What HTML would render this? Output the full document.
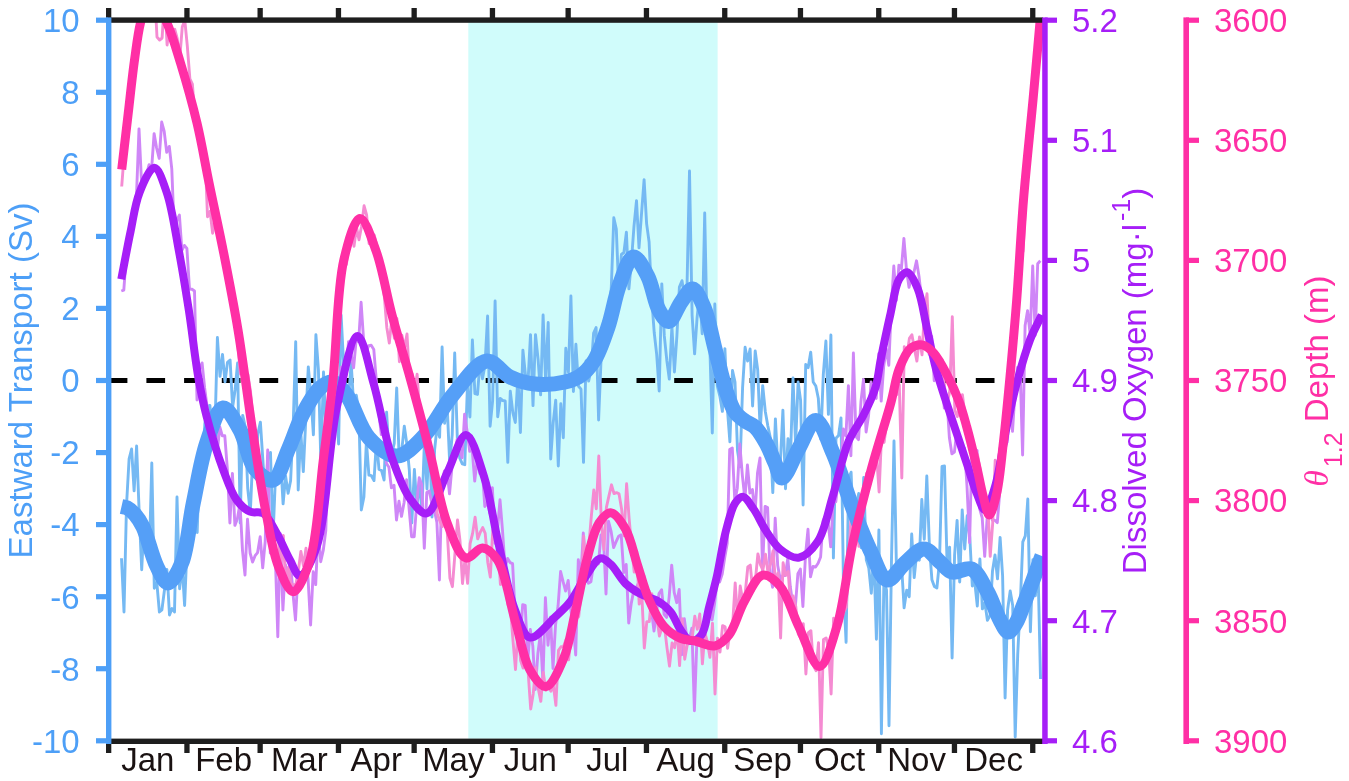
<!DOCTYPE html>
<html><head><meta charset="utf-8"><style>
html,body{margin:0;padding:0;background:#fff;}
body{width:1349px;height:781px;overflow:hidden;}
svg{display:block;font-family:"Liberation Sans", sans-serif;filter:blur(0.45px);}
</style></head><body>
<svg width="1349" height="781" viewBox="0 0 1349 781">
<rect width="1349" height="781" fill="#ffffff"/>
<rect x="468.3" y="22.2" width="249.3" height="716.6" fill="#d0fcfb"/>
<line x1="108.7" y1="380.5" x2="1045.0" y2="380.5" stroke="#000" stroke-width="5" stroke-dasharray="18.7 19"/>
<defs><clipPath id="pc"><rect x="108.7" y="20.2" width="936.3" height="720.6"/></clipPath></defs>
<g clip-path="url(#pc)" fill="none" stroke-linejoin="round">
<path d="M121.5,558.3 L124.0,612.0 L126.5,505.5 L129.1,458.8 L131.6,449.0 L134.1,490.8 L136.6,446.0 L139.2,512.7 L141.7,569.7 L144.2,519.4 L146.7,552.3 L149.3,556.7 L151.8,463.0 L154.3,588.2 L156.8,582.4 L159.4,612.0 L161.9,609.9 L164.4,590.5 L166.9,569.5 L169.5,615.0 L172.0,608.5 L174.5,612.0 L177.0,497.0 L179.6,588.8 L182.1,564.7 L184.6,605.5 L187.1,546.3 L189.7,535.1 L192.2,531.3 L194.7,491.2 L197.2,532.5 L199.8,448.2 L202.3,476.9 L204.8,424.0 L207.3,406.6 L209.9,405.4 L212.4,433.1 L214.9,431.1 L217.4,337.5 L220.0,376.3 L222.5,354.4 L225.0,381.9 L227.5,362.3 L230.1,360.0 L232.6,407.2 L235.1,390.0 L237.6,363.0 L240.2,523.0 L242.7,415.4 L245.2,426.5 L247.7,488.0 L250.3,513.0 L252.8,455.4 L255.3,471.5 L257.8,434.1 L260.4,422.1 L262.9,460.8 L265.4,499.5 L267.9,455.9 L270.5,452.5 L273.0,536.9 L275.5,475.7 L278.0,482.6 L280.5,457.7 L283.1,503.8 L285.6,476.3 L288.1,493.3 L290.6,480.8 L293.2,424.5 L295.7,341.7 L298.2,490.0 L300.7,430.7 L303.3,471.6 L305.8,419.2 L308.3,366.9 L310.8,395.0 L313.4,434.8 L315.9,334.7 L318.4,369.5 L320.9,463.7 L323.5,372.0 L326.0,432.5 L328.5,399.9 L331.0,403.0 L333.6,392.4 L336.1,402.5 L338.6,444.0 L341.1,315.0 L343.7,365.3 L346.2,396.6 L348.7,395.5 L351.2,363.2 L353.8,407.7 L356.3,395.1 L358.8,411.2 L361.3,510.0 L363.9,497.0 L366.4,441.3 L368.9,475.2 L371.4,475.7 L374.0,480.6 L376.5,440.2 L379.0,469.5 L381.5,470.4 L384.1,480.0 L386.6,412.3 L389.1,456.2 L391.6,454.3 L394.2,443.4 L396.7,388.0 L399.2,459.4 L401.7,450.9 L404.3,426.2 L406.8,443.6 L409.3,469.8 L411.8,523.0 L414.4,469.5 L416.9,507.5 L419.4,480.9 L421.9,512.0 L424.5,439.6 L427.0,489.0 L429.5,431.8 L432.0,517.0 L434.6,449.8 L437.1,426.4 L439.6,437.3 L442.1,347.0 L444.6,423.2 L447.2,406.7 L449.7,463.4 L452.2,434.8 L454.7,353.0 L457.3,438.2 L459.8,458.2 L462.3,463.8 L464.8,464.7 L467.4,386.3 L469.9,417.0 L472.4,340.0 L474.9,393.6 L477.5,394.4 L480.0,361.7 L482.5,378.7 L485.0,365.0 L487.6,316.0 L490.1,426.2 L492.6,401.0 L495.1,301.0 L497.7,416.7 L500.2,398.5 L502.7,400.5 L505.2,401.0 L507.8,462.4 L510.3,391.1 L512.8,412.3 L515.3,422.5 L517.9,377.0 L520.4,432.5 L522.9,350.1 L525.4,374.3 L528.0,382.1 L530.5,334.6 L533.0,405.6 L535.5,334.6 L538.1,359.3 L540.6,394.9 L543.1,315.0 L545.6,380.4 L548.2,322.5 L550.7,459.0 L553.2,422.6 L555.7,400.1 L558.3,466.0 L560.8,403.8 L563.3,437.7 L565.8,348.3 L568.4,372.2 L570.9,296.0 L573.4,391.5 L575.9,344.3 L578.5,386.2 L581.0,389.1 L583.5,462.4 L586.0,361.0 L588.6,381.1 L591.1,370.0 L593.6,333.0 L596.1,327.6 L598.6,420.0 L601.2,355.9 L603.7,321.7 L606.2,339.5 L608.7,318.2 L611.3,287.6 L613.8,217.7 L616.3,229.1 L618.8,291.9 L621.4,254.5 L623.9,252.5 L626.4,232.3 L628.9,288.9 L631.5,260.4 L634.0,226.1 L636.5,200.7 L639.0,247.9 L641.6,212.7 L644.1,179.6 L646.6,223.6 L649.1,242.0 L651.7,298.2 L654.2,332.5 L656.7,354.7 L659.2,391.0 L661.8,283.9 L664.3,335.9 L666.8,360.2 L669.3,379.1 L671.9,326.6 L674.4,372.0 L676.9,335.9 L679.4,287.0 L682.0,280.7 L684.5,296.4 L687.0,286.6 L689.5,171.0 L692.1,315.3 L694.6,353.9 L697.1,317.5 L699.6,294.1 L702.2,333.7 L704.7,213.0 L707.2,336.7 L709.7,341.4 L712.3,433.0 L714.8,304.0 L717.3,386.0 L719.8,396.1 L722.4,411.4 L724.9,348.6 L727.4,409.1 L729.9,441.8 L732.5,370.5 L735.0,382.0 L737.5,450.6 L740.0,466.9 L742.6,387.1 L745.1,347.3 L747.6,361.0 L750.1,349.0 L752.6,406.0 L755.2,351.0 L757.7,370.0 L760.2,431.0 L762.7,385.7 L765.3,411.5 L767.8,425.8 L770.3,437.6 L772.8,492.6 L775.4,418.9 L777.9,467.9 L780.4,461.7 L782.9,410.1 L785.5,488.8 L788.0,438.6 L790.5,456.8 L793.0,378.0 L795.6,444.6 L798.1,382.0 L800.6,400.4 L803.1,505.0 L805.7,364.5 L808.2,367.6 L810.7,352.2 L813.2,382.0 L815.8,386.0 L818.3,398.2 L820.8,439.2 L823.3,374.7 L825.9,341.0 L828.4,414.4 L830.9,335.0 L833.4,558.0 L836.0,438.3 L838.5,435.6 L841.0,417.9 L843.5,587.0 L846.1,642.4 L848.6,478.9 L851.1,472.2 L853.6,537.8 L856.2,506.6 L858.7,493.4 L861.2,547.8 L863.7,477.5 L866.3,559.8 L868.8,568.2 L871.3,593.2 L873.8,552.6 L876.4,639.3 L878.9,530.0 L881.4,733.7 L883.9,580.5 L886.5,589.9 L889.0,725.7 L891.5,559.4 L894.0,441.0 L896.6,576.6 L899.1,569.1 L901.6,566.1 L904.1,607.8 L906.7,590.1 L909.2,596.8 L911.7,534.0 L914.2,577.6 L916.7,553.3 L919.3,560.2 L921.8,499.5 L924.3,539.3 L926.8,476.0 L929.4,546.0 L931.9,579.7 L934.4,586.4 L936.9,587.9 L939.5,561.5 L942.0,466.5 L944.5,466.0 L947.0,560.7 L949.6,547.1 L952.1,658.0 L954.6,554.9 L957.1,520.4 L959.7,582.0 L962.2,509.9 L964.7,549.0 L967.2,515.8 L969.8,537.1 L972.3,586.0 L974.8,582.4 L977.3,606.0 L979.9,559.0 L982.4,608.9 L984.9,602.9 L987.4,620.2 L990.0,615.6 L992.5,570.9 L995.0,555.0 L997.5,578.9 L1000.1,537.4 L1002.6,575.9 L1005.1,698.0 L1007.6,610.0 L1010.2,591.0 L1012.7,605.5 L1015.2,737.0 L1017.7,654.8 L1020.3,603.1 L1022.8,541.9 L1025.3,535.9 L1027.8,499.0 L1030.4,631.7 L1032.9,559.7 L1035.4,595.7 L1037.9,562.6 L1040.5,679.0" stroke="#75b9f3" stroke-width="2.9"/>
<path d="M121.3,291.0 L123.8,290.1 L126.3,255.7 L128.9,244.1 L131.4,216.7 L133.9,206.6 L136.4,198.1 L139.0,128.9 L141.5,181.8 L144.0,179.4 L146.5,174.3 L149.1,164.7 L151.6,168.9 L154.1,133.6 L156.6,148.0 L159.2,158.4 L161.7,122.0 L164.2,131.4 L166.7,152.4 L169.3,146.4 L171.8,169.2 L174.3,232.8 L176.8,220.4 L179.4,215.1 L181.9,250.3 L184.4,245.4 L186.9,248.4 L189.5,289.0 L192.0,289.3 L194.5,291.0 L197.0,400.0 L199.6,369.1 L202.1,362.9 L204.6,387.7 L207.1,407.0 L209.7,432.1 L212.2,433.1 L214.7,417.7 L217.2,452.5 L219.8,426.9 L222.3,435.8 L224.8,435.8 L227.3,468.3 L229.9,523.0 L232.4,473.4 L234.9,525.4 L237.4,518.8 L240.0,503.5 L242.5,550.6 L245.0,575.0 L247.5,519.3 L250.1,553.0 L252.6,562.0 L255.1,555.7 L257.6,552.6 L260.2,536.8 L262.7,567.9 L265.2,541.7 L267.7,450.0 L270.3,553.1 L272.8,519.3 L275.3,555.5 L277.8,636.7 L280.3,533.6 L282.9,610.0 L285.4,564.6 L287.9,577.5 L290.4,560.1 L293.0,593.9 L295.5,620.0 L298.0,572.6 L300.5,574.3 L303.1,577.8 L305.6,558.3 L308.1,579.5 L310.6,625.0 L313.2,571.8 L315.7,584.6 L318.2,529.6 L320.7,561.7 L323.3,550.1 L325.8,530.5 L328.3,450.1 L330.8,433.0 L333.4,424.0 L335.9,404.7 L338.4,394.3 L340.9,367.2 L343.5,379.9 L346.0,375.3 L348.5,341.6 L351.0,354.1 L353.6,367.9 L356.1,340.7 L358.6,341.5 L361.1,302.3 L363.7,341.7 L366.2,351.8 L368.7,345.6 L371.2,345.3 L373.8,349.5 L376.3,380.3 L378.8,412.4 L381.3,434.6 L383.9,423.5 L386.4,463.4 L388.9,467.2 L391.4,487.8 L394.0,485.2 L396.5,520.0 L399.0,501.3 L401.5,516.4 L404.1,502.5 L406.6,479.7 L409.1,508.5 L411.6,536.7 L414.2,536.7 L416.7,504.1 L419.2,477.8 L421.7,484.5 L424.3,548.3 L426.8,492.6 L429.3,491.1 L431.8,503.1 L434.4,510.1 L436.9,522.4 L439.4,580.0 L441.9,485.2 L444.4,471.0 L447.0,470.3 L449.5,493.9 L452.0,466.5 L454.5,454.8 L457.1,439.6 L459.6,449.2 L462.1,457.8 L464.6,414.2 L467.2,431.8 L469.7,451.2 L472.2,449.6 L474.7,481.1 L477.3,459.2 L479.8,473.4 L482.3,469.8 L484.8,506.5 L487.4,502.3 L489.9,513.4 L492.4,487.7 L494.9,543.2 L497.5,530.2 L500.0,499.8 L502.5,530.3 L505.0,567.2 L507.6,558.5 L510.1,562.6 L512.6,563.7 L515.1,613.5 L517.7,619.1 L520.2,640.0 L522.7,604.6 L525.2,605.4 L527.8,659.7 L530.3,629.5 L532.8,646.0 L535.3,689.5 L537.9,653.2 L540.4,634.0 L542.9,681.4 L545.4,597.8 L548.0,645.2 L550.5,617.3 L553.0,668.5 L555.5,625.4 L558.1,605.5 L560.6,571.5 L563.1,581.7 L565.6,591.0 L568.2,580.4 L570.7,609.0 L573.2,624.4 L575.7,655.0 L578.3,559.8 L580.8,578.2 L583.3,533.0 L585.8,575.8 L588.4,583.2 L590.9,581.7 L593.4,565.0 L595.9,557.9 L598.4,563.9 L601.0,534.9 L603.5,538.5 L606.0,594.0 L608.5,521.3 L611.1,531.4 L613.6,547.6 L616.1,541.6 L618.6,536.3 L621.2,534.9 L623.7,572.5 L626.2,564.5 L628.7,623.0 L631.3,603.1 L633.8,590.4 L636.3,587.7 L638.8,582.3 L641.4,581.0 L643.9,575.9 L646.4,593.9 L648.9,590.4 L651.5,610.2 L654.0,631.0 L656.5,612.3 L659.0,593.6 L661.6,589.7 L664.1,614.3 L666.6,617.4 L669.1,597.6 L671.7,565.1 L674.2,592.4 L676.7,602.7 L679.2,589.5 L681.8,654.7 L684.3,618.7 L686.8,637.3 L689.3,639.5 L691.9,628.2 L694.4,710.8 L696.9,639.7 L699.4,642.2 L702.0,629.4 L704.5,621.3 L707.0,614.9 L709.5,597.4 L712.1,619.8 L714.6,603.6 L717.1,580.9 L719.6,582.0 L722.2,574.0 L724.7,557.7 L727.2,543.6 L729.7,449.6 L732.3,448.0 L734.8,501.5 L737.3,488.2 L739.8,444.0 L742.4,475.8 L744.9,499.0 L747.4,465.0 L749.9,493.0 L752.4,489.5 L755.0,514.3 L757.5,473.0 L760.0,458.0 L762.5,571.0 L765.1,506.4 L767.6,507.5 L770.1,574.5 L772.6,587.2 L775.2,518.3 L777.7,565.6 L780.2,578.9 L782.7,575.5 L785.3,575.6 L787.8,558.1 L790.3,586.8 L792.8,604.2 L795.4,605.9 L797.9,573.7 L800.4,569.1 L802.9,606.5 L805.5,555.2 L808.0,529.3 L810.5,576.9 L813.0,566.5 L815.6,567.0 L818.1,563.3 L820.6,557.0 L823.1,520.7 L825.7,515.3 L828.2,522.5 L830.7,546.9 L833.2,502.4 L835.8,501.8 L838.3,479.3 L840.8,466.3 L843.3,428.9 L845.9,436.0 L848.4,385.8 L850.9,455.8 L853.4,353.0 L856.0,436.6 L858.5,439.7 L861.0,401.2 L863.5,379.4 L866.1,432.0 L868.6,415.2 L871.1,381.9 L873.6,396.1 L876.2,398.4 L878.7,353.8 L881.2,401.1 L883.7,366.2 L886.3,348.9 L888.8,365.2 L891.3,307.1 L893.8,266.0 L896.4,300.5 L898.9,265.1 L901.4,268.7 L903.9,238.4 L906.5,269.9 L909.0,287.3 L911.5,276.7 L914.0,272.0 L916.5,260.8 L919.1,277.1 L921.6,298.8 L924.1,303.4 L926.6,337.5 L929.2,354.2 L931.7,336.3 L934.2,380.7 L936.7,366.9 L939.3,357.4 L941.8,377.4 L944.3,408.1 L946.8,397.9 L949.4,437.8 L951.9,453.9 L954.4,452.1 L956.9,429.8 L959.5,446.6 L962.0,446.5 L964.5,448.1 L967.0,486.1 L969.6,542.6 L972.1,444.1 L974.6,452.1 L977.1,450.6 L979.7,508.9 L982.2,517.8 L984.7,556.4 L987.2,517.5 L989.8,500.4 L992.3,520.1 L994.8,520.3 L997.3,522.6 L999.9,490.3 L1002.4,468.4 L1004.9,445.8 L1007.4,441.8 L1010.0,394.1 L1012.5,431.4 L1015.0,391.9 L1017.5,367.5 L1020.1,368.3 L1022.6,455.0 L1025.1,325.4 L1027.6,310.6 L1030.2,334.9 L1032.7,266.0 L1035.2,335.2 L1037.7,263.8 L1040.3,260.8" stroke="#cf86f7" stroke-width="2.9"/>
<path d="M121.7,186.5 L124.2,154.0 L126.7,115.3 L129.3,115.2 L131.8,98.1 L134.3,75.2 L136.8,46.3 L139.4,32.1 L141.9,-5.4 L144.4,-9.8 L146.9,-9.8 L149.5,-9.8 L152.0,-9.8 L154.5,-9.8 L157.0,37.0 L159.6,40.0 L162.1,38.0 L164.6,-2.4 L167.1,45.0 L169.7,22.4 L172.2,30.4 L174.7,29.2 L177.2,38.4 L179.8,57.7 L182.3,26.7 L184.8,20.4 L187.3,45.8 L189.9,79.0 L192.4,84.2 L194.9,117.6 L197.4,125.1 L200.0,133.6 L202.5,162.6 L205.0,152.5 L207.5,216.8 L210.1,211.3 L212.6,233.2 L215.1,220.1 L217.6,228.2 L220.2,228.6 L222.7,242.7 L225.2,246.7 L227.7,267.3 L230.3,274.3 L232.8,306.9 L235.3,301.1 L237.8,344.3 L240.4,374.1 L242.9,359.7 L245.4,379.2 L247.9,374.4 L250.5,391.4 L253.0,421.4 L255.5,442.3 L258.0,464.8 L260.6,479.4 L263.1,494.8 L265.6,509.1 L268.1,528.9 L270.7,534.2 L273.2,532.7 L275.7,539.8 L278.2,535.8 L280.7,567.9 L283.3,535.4 L285.8,587.4 L288.3,567.4 L290.8,583.5 L293.4,584.8 L295.9,584.4 L298.4,570.3 L300.9,551.4 L303.5,566.1 L306.0,548.2 L308.5,569.0 L311.0,542.9 L313.6,546.5 L316.1,513.7 L318.6,500.6 L321.1,490.3 L323.7,449.6 L326.2,446.1 L328.7,412.5 L331.2,375.4 L333.8,386.2 L336.3,323.8 L338.8,293.2 L341.3,292.5 L343.9,260.5 L346.4,264.5 L348.9,242.9 L351.4,229.6 L354.0,246.2 L356.5,227.3 L359.0,239.8 L361.5,226.4 L364.1,205.8 L366.6,215.0 L369.1,243.5 L371.6,243.8 L374.2,234.8 L376.7,245.8 L379.2,256.7 L381.7,278.3 L384.3,296.1 L386.8,327.4 L389.3,343.1 L391.8,319.2 L394.4,338.4 L396.9,318.5 L399.4,361.7 L401.9,335.3 L404.5,348.0 L407.0,333.9 L409.5,380.3 L412.0,373.7 L414.6,393.0 L417.1,374.2 L419.6,413.6 L422.1,435.1 L424.7,428.5 L427.2,432.8 L429.7,451.2 L432.2,465.8 L434.8,485.2 L437.3,513.9 L439.8,521.0 L442.3,526.6 L444.8,506.8 L447.4,534.4 L449.9,578.0 L452.4,586.7 L454.9,554.4 L457.5,520.0 L460.0,540.6 L462.5,583.5 L465.0,559.0 L467.6,583.3 L470.1,543.7 L472.6,533.4 L475.1,517.2 L477.7,538.9 L480.2,532.4 L482.7,527.6 L485.2,533.4 L487.8,562.5 L490.3,577.1 L492.8,529.4 L495.3,540.3 L497.9,544.4 L500.4,584.5 L502.9,583.6 L505.4,586.2 L508.0,604.7 L510.5,608.4 L513.0,640.7 L515.5,669.5 L518.1,627.0 L520.6,660.6 L523.1,668.1 L525.6,661.3 L528.2,673.0 L530.7,709.0 L533.2,693.9 L535.7,667.4 L538.3,688.8 L540.8,701.4 L543.3,672.4 L545.8,690.4 L548.4,687.1 L550.9,691.2 L553.4,685.7 L555.9,705.4 L558.5,650.4 L561.0,646.8 L563.5,646.4 L566.0,639.7 L568.6,659.8 L571.1,635.8 L573.6,624.6 L576.1,618.3 L578.7,616.7 L581.2,593.8 L583.7,536.2 L586.2,572.9 L588.8,545.9 L591.3,516.6 L593.8,490.0 L596.3,508.7 L598.8,456.0 L601.4,523.3 L603.9,549.6 L606.4,507.4 L608.9,496.1 L611.5,484.8 L614.0,493.6 L616.5,492.6 L619.0,493.8 L621.6,508.9 L624.1,535.8 L626.6,483.8 L629.1,518.4 L631.7,547.6 L634.2,572.0 L636.7,551.0 L639.2,604.1 L641.8,594.3 L644.3,648.0 L646.8,621.7 L649.3,621.5 L651.9,593.8 L654.4,616.6 L656.9,617.5 L659.4,636.0 L662.0,627.0 L664.5,626.7 L667.0,647.9 L669.5,666.0 L672.1,642.9 L674.6,647.7 L677.1,630.4 L679.6,665.6 L682.2,618.7 L684.7,659.2 L687.2,645.0 L689.7,642.8 L692.3,637.0 L694.8,616.2 L697.3,629.3 L699.8,614.0 L702.4,663.9 L704.9,633.2 L707.4,641.6 L709.9,657.3 L712.5,623.2 L715.0,694.0 L717.5,638.1 L720.0,652.0 L722.6,625.7 L725.1,626.8 L727.6,648.3 L730.1,631.4 L732.7,623.3 L735.2,582.9 L737.7,621.4 L740.2,586.0 L742.8,600.7 L745.3,592.1 L747.8,567.0 L750.3,565.1 L752.8,591.8 L755.4,580.0 L757.9,553.9 L760.4,564.7 L762.9,570.1 L765.5,554.2 L768.0,572.7 L770.5,564.4 L773.0,550.9 L775.6,582.7 L778.1,572.9 L780.6,638.0 L783.1,562.8 L785.7,575.3 L788.2,571.5 L790.7,607.4 L793.2,596.0 L795.8,606.7 L798.3,634.0 L800.8,638.3 L803.3,623.8 L805.9,674.0 L808.4,632.7 L810.9,630.7 L813.4,665.5 L816.0,670.7 L818.5,642.6 L821.0,737.6 L823.5,639.4 L826.1,637.9 L828.6,648.9 L831.1,694.0 L833.6,618.3 L836.2,630.9 L838.7,615.6 L841.2,621.6 L843.7,612.0 L846.3,607.4 L848.8,557.5 L851.3,511.0 L853.8,547.1 L856.4,510.7 L858.9,546.4 L861.4,496.6 L863.9,503.5 L866.5,473.4 L869.0,476.4 L871.5,461.0 L874.0,456.3 L876.6,455.5 L879.1,492.0 L881.6,433.9 L884.1,442.4 L886.7,422.7 L889.2,408.9 L891.7,391.4 L894.2,385.8 L896.8,394.5 L899.3,384.9 L901.8,478.0 L904.3,346.6 L906.9,355.8 L909.4,338.4 L911.9,334.7 L914.4,348.7 L916.9,361.1 L919.5,336.9 L922.0,354.8 L924.5,310.0 L927.0,293.7 L929.6,350.1 L932.1,355.6 L934.6,372.0 L937.1,365.8 L939.7,378.5 L942.2,359.7 L944.7,388.3 L947.2,403.7 L949.8,390.9 L952.3,316.8 L954.8,410.1 L957.3,416.6 L959.9,406.6 L962.4,394.6 L964.9,414.5 L967.4,437.1 L970.0,449.7 L972.5,440.8 L975.0,471.9 L977.5,454.6 L980.1,469.5 L982.6,489.6 L985.1,497.0 L987.6,501.0 L990.2,556.4 L992.7,523.2 L995.2,460.3 L997.7,469.3 L1000.3,461.3 L1002.8,457.3 L1005.3,436.8 L1007.8,406.3 L1010.4,373.5 L1012.9,367.0 L1015.4,330.4 L1017.9,312.8 L1020.5,252.9 L1023.0,251.3 L1025.5,204.2 L1028.0,158.4 L1030.6,97.8 L1033.1,81.5 L1035.6,64.8 L1038.1,30.1" stroke="#f58bd2" stroke-width="2.9"/>
<path d="M121.5,506.5 C123.3,506.9 125.1,506.9 127.0,507.8 C129.6,509.1 132.5,511.7 135.0,514.5 C137.9,517.8 140.3,521.5 143.0,527.0 C147.5,536.2 151.7,555.9 156.7,566.0 C160.2,573.1 164.0,583.0 168.0,583.0 C172.3,583.0 178.0,572.0 181.7,563.0 C187.6,548.8 189.1,523.0 193.3,503.0 C197.5,483.0 200.9,460.1 206.7,443.0 C211.3,429.5 216.9,408.7 223.0,408.0 C228.2,407.4 235.0,421.2 240.0,430.0 C246.1,440.8 248.0,460.6 255.0,469.0 C260.0,475.0 267.9,481.5 273.0,480.0 C279.6,478.1 283.6,459.8 288.5,449.0 C293.7,437.5 297.6,423.7 303.3,413.0 C308.3,403.6 314.2,393.1 320.0,388.0 C323.9,384.6 328.0,381.5 332.0,382.0 C336.7,382.6 341.3,388.1 346.0,394.0 C353.7,403.6 359.3,427.4 369.0,438.0 C377.0,446.7 387.9,456.3 397.0,456.0 C406.2,455.7 415.6,444.7 424.0,436.0 C434.2,425.6 441.5,408.5 452.0,396.0 C462.5,383.5 476.2,362.0 487.0,361.0 C495.1,360.3 501.8,373.1 510.0,377.0 C517.9,380.7 526.2,383.1 535.0,384.0 C544.5,385.0 556.8,383.9 565.0,382.0 C571.0,380.6 575.4,379.1 580.0,376.0 C585.2,372.5 589.8,367.5 594.0,361.0 C599.6,352.3 603.9,339.1 608.0,327.0 C612.5,313.9 614.7,297.4 619.4,285.0 C623.4,274.5 628.4,257.4 633.5,257.0 C637.9,256.6 643.6,268.4 647.6,276.0 C652.5,285.4 654.4,302.0 658.9,310.0 C661.8,315.2 665.4,321.6 668.7,321.4 C672.8,321.1 677.1,307.4 681.4,301.7 C685.1,296.8 689.1,288.7 692.7,289.0 C696.7,289.4 700.7,299.6 704.0,307.3 C708.7,318.2 711.5,335.5 715.2,349.6 C719.0,363.7 722.6,380.6 726.5,392.0 C729.3,400.0 731.4,406.9 735.0,412.0 C737.8,416.0 741.5,418.4 745.0,421.0 C748.2,423.4 751.9,424.1 755.0,427.0 C759.0,430.8 762.7,437.2 766.0,443.0 C769.5,449.2 772.2,456.8 775.0,463.0 C777.5,468.4 779.0,477.9 782.0,478.0 C786.2,478.2 792.9,458.6 798.5,449.0 C804.1,439.4 810.2,420.2 815.8,420.4 C821.7,420.6 827.5,440.5 833.0,453.0 C839.8,468.5 845.6,489.8 852.3,507.0 C858.5,523.0 865.0,539.9 871.5,553.0 C876.6,563.4 881.0,579.1 887.0,580.0 C892.3,580.8 898.8,568.2 905.0,563.0 C911.1,557.9 918.0,548.9 924.0,549.0 C929.6,549.1 935.1,557.9 940.0,562.0 C944.3,565.5 947.2,570.7 952.0,572.0 C957.4,573.5 965.9,566.6 971.5,569.0 C978.2,571.8 982.9,583.7 987.6,592.0 C992.5,600.7 996.0,612.8 1000.0,620.0 C1002.8,625.0 1005.4,631.8 1008.2,632.0 C1010.7,632.1 1013.7,626.7 1016.0,623.0 C1019.0,618.2 1020.5,612.5 1023.5,605.0 C1028.4,592.7 1035.8,572.3 1042.0,556.0" stroke="#559ff7" stroke-width="15"/>
<path d="M121.3,279.2 C124.4,263.4 127.3,246.9 130.5,231.9 C133.4,218.1 135.0,203.7 139.6,192.4 C143.4,182.9 149.8,167.6 154.4,167.8 C158.9,168.0 163.1,182.1 166.7,192.4 C172.0,207.6 175.3,231.8 179.0,251.6 C182.7,271.3 185.7,290.2 188.9,310.7 C192.3,332.8 195.2,360.3 198.7,379.7 C201.3,394.0 203.2,403.3 206.7,416.7 C211.0,432.9 217.6,454.9 223.3,470.0 C227.7,481.6 231.3,492.7 236.7,500.0 C240.6,505.4 245.2,509.6 250.0,511.7 C254.2,513.6 259.3,510.9 263.3,513.3 C268.6,516.6 272.5,526.0 276.7,533.3 C281.4,541.4 285.7,552.3 290.0,560.0 C293.4,566.1 296.3,576.1 300.0,576.0 C304.9,575.9 311.9,560.7 316.7,546.7 C326.6,518.0 328.5,445.5 336.9,407.0 C342.9,379.1 350.9,336.1 357.6,336.0 C363.1,335.9 368.5,366.2 373.7,384.0 C380.1,405.9 384.8,437.1 392.0,458.0 C397.6,474.1 403.4,489.9 410.6,499.5 C415.5,506.1 421.6,514.4 426.7,513.4 C434.2,511.9 440.8,485.4 447.5,472.0 C453.9,459.3 460.0,434.8 466.0,435.0 C472.2,435.2 479.0,460.9 484.0,476.5 C490.1,495.4 492.9,519.2 498.0,541.0 C503.2,563.6 508.2,592.5 515.0,610.0 C519.5,621.6 523.4,636.2 530.0,637.5 C536.6,638.8 547.7,623.8 554.7,617.4 C560.4,612.2 564.9,608.4 569.5,602.6 C574.8,595.9 579.0,586.5 584.2,579.0 C589.3,571.8 595.2,559.4 600.4,558.4 C603.9,557.7 607.3,561.3 610.7,564.3 C615.6,568.6 620.2,578.4 625.5,583.5 C630.1,587.9 634.9,590.9 640.2,593.8 C645.7,596.8 652.7,598.0 657.9,601.2 C662.8,604.2 667.1,607.6 670.7,612.0 C674.6,616.7 676.5,623.9 680.0,628.9 C683.2,633.5 686.9,640.3 690.7,641.0 C694.1,641.6 698.6,638.6 701.4,635.0 C705.7,629.5 706.5,616.9 709.0,607.4 C711.6,597.5 714.2,588.0 716.8,576.7 C719.9,562.9 722.5,543.9 726.0,530.6 C728.8,520.1 731.3,508.6 735.2,503.0 C737.5,499.7 740.2,496.6 742.9,496.8 C746.3,497.1 750.1,504.2 753.6,509.0 C757.9,515.0 761.4,523.8 765.9,530.6 C770.2,537.1 774.3,544.4 780.0,549.0 C785.3,553.3 792.5,558.5 798.5,557.7 C805.1,556.8 812.4,549.3 817.7,541.5 C825.0,530.7 828.0,511.4 833.0,495.4 C838.3,478.2 842.4,456.1 848.5,441.5 C853.1,430.7 859.3,423.7 863.8,414.6 C868.2,405.8 872.6,396.9 875.4,387.7 C878.2,378.7 878.6,370.2 880.7,359.9 C883.3,346.9 886.8,330.0 890.0,316.0 C893.0,303.2 894.8,286.3 899.2,279.2 C901.5,275.5 904.6,271.9 907.2,272.3 C910.7,272.8 914.7,281.5 917.6,288.4 C921.8,298.3 923.8,314.3 926.8,327.6 C929.9,341.2 932.0,354.4 936.0,369.0 C940.6,386.0 947.8,406.6 953.3,423.3 C958.0,437.7 962.6,450.9 966.7,463.3 C970.3,474.0 973.2,484.9 976.7,493.3 C979.4,499.8 982.2,510.1 985.0,510.0 C988.3,509.9 992.0,496.5 995.0,486.7 C999.7,471.5 1002.8,445.1 1006.7,426.7 C1010.0,411.0 1012.8,397.7 1016.7,383.3 C1020.6,368.8 1025.3,352.3 1030.0,340.0 C1033.7,330.4 1037.8,323.3 1041.7,315.0" stroke="#a61ef7" stroke-width="8"/>
<path d="M121.7,169.5 C123.9,150.9 126.0,132.1 128.2,113.6 C130.3,95.4 132.3,75.7 134.6,59.4 C136.5,45.9 137.8,33.8 140.6,22.4 C143.1,12.2 145.8,-5.6 150.0,-6.0 C154.4,-6.5 161.9,11.8 166.7,22.4 C172.2,34.5 175.9,48.1 180.5,63.0 C186.0,81.0 192.2,103.0 197.0,123.0 C201.7,142.8 204.8,162.0 209.0,182.6 C213.5,204.8 218.7,227.8 223.4,251.6 C228.4,277.0 233.5,302.8 238.1,330.4 C243.1,360.8 247.3,395.8 252.0,426.7 C256.4,455.5 260.6,485.0 265.5,510.0 C269.6,530.8 272.6,552.0 278.5,566.7 C282.7,577.1 288.3,591.8 293.3,591.7 C298.8,591.6 305.5,574.0 310.0,560.0 C317.5,536.4 319.3,491.5 323.3,460.0 C326.9,431.9 329.9,409.4 333.0,380.0 C336.8,344.1 336.9,289.3 343.8,260.0 C348.0,242.2 354.3,218.7 360.0,218.4 C365.1,218.2 371.3,237.8 376.0,250.7 C382.4,268.2 386.3,293.6 392.0,315.0 C397.8,336.6 404.5,357.7 410.6,379.7 C416.9,402.3 423.0,425.3 429.0,448.8 C435.3,473.3 439.8,504.2 447.5,524.0 C452.9,538.0 458.9,556.1 466.0,558.0 C471.0,559.4 477.2,547.7 482.5,548.0 C487.7,548.3 493.1,553.5 497.5,560.0 C505.4,571.8 509.4,600.9 515.0,620.0 C520.2,637.4 523.2,658.3 530.0,670.0 C534.5,677.7 540.8,687.1 545.9,686.6 C552.1,686.0 558.9,669.6 563.6,658.6 C569.3,645.3 571.6,627.7 575.4,611.5 C579.5,594.4 582.8,574.2 587.2,558.4 C590.8,545.3 593.8,530.9 599.0,523.0 C602.4,517.9 606.7,512.5 610.7,512.7 C615.5,513.0 621.4,522.0 625.5,529.0 C630.8,538.1 633.4,552.5 637.3,564.3 C641.2,576.1 644.3,589.0 649.0,599.7 C653.3,609.4 657.9,619.6 663.8,626.2 C668.6,631.6 674.4,635.6 680.0,638.0 C684.9,640.2 689.9,639.8 695.3,641.0 C701.5,642.4 709.4,647.1 715.2,645.8 C720.5,644.6 724.8,640.3 729.0,635.0 C735.1,627.3 738.5,611.5 744.4,601.2 C749.9,591.7 756.1,576.4 762.8,575.1 C768.2,574.0 774.9,580.2 780.0,586.0 C787.5,594.6 792.0,612.7 798.5,626.0 C805.2,639.5 813.1,666.7 819.6,666.5 C826.0,666.3 832.1,642.1 837.0,626.0 C843.7,604.0 846.5,571.9 852.3,545.4 C858.0,519.4 864.8,493.0 871.5,468.5 C877.7,445.7 885.8,421.3 890.8,403.0 C894.4,389.9 895.4,378.7 899.2,369.0 C902.3,361.0 906.0,352.1 910.7,348.3 C914.1,345.6 918.5,344.3 922.2,344.9 C926.2,345.6 930.1,349.1 933.7,353.0 C938.7,358.4 943.4,368.0 947.6,376.0 C951.9,384.1 955.8,392.8 959.0,401.4 C962.1,409.7 964.1,417.3 966.7,426.7 C970.0,438.5 973.8,454.3 976.7,466.7 C979.2,477.4 980.9,488.0 983.3,496.7 C985.2,503.6 987.2,515.0 989.3,515.0 C991.6,515.0 994.6,502.1 996.7,493.3 C999.8,480.2 1001.2,461.2 1003.3,443.3 C1005.7,422.7 1007.8,399.7 1010.0,376.7 C1012.3,352.0 1014.6,327.3 1016.7,300.0 C1019.1,268.9 1020.8,233.3 1023.5,200.0 C1026.2,166.6 1030.1,131.3 1033.0,100.0 C1035.6,72.4 1037.7,48.0 1040.0,22.0" stroke="#ff2fa5" stroke-width="9"/>
</g>
<rect x="106.5" y="17.4" width="936.5" height="5.4" fill="#1e1e1e"/>
<rect x="106.5" y="738.6" width="936.5" height="5.4" fill="#1e1e1e"/>
<rect x="106.0" y="8" width="5.3" height="12" fill="#1e1e1e"/>
<rect x="106.0" y="741" width="5.3" height="12" fill="#1e1e1e"/>
<rect x="184.3" y="8" width="5.3" height="12" fill="#1e1e1e"/>
<rect x="184.3" y="741" width="5.3" height="12" fill="#1e1e1e"/>
<rect x="257.5" y="8" width="5.3" height="12" fill="#1e1e1e"/>
<rect x="257.5" y="741" width="5.3" height="12" fill="#1e1e1e"/>
<rect x="335.8" y="8" width="5.3" height="12" fill="#1e1e1e"/>
<rect x="335.8" y="741" width="5.3" height="12" fill="#1e1e1e"/>
<rect x="411.5" y="8" width="5.3" height="12" fill="#1e1e1e"/>
<rect x="411.5" y="741" width="5.3" height="12" fill="#1e1e1e"/>
<rect x="489.8" y="8" width="5.3" height="12" fill="#1e1e1e"/>
<rect x="489.8" y="741" width="5.3" height="12" fill="#1e1e1e"/>
<rect x="565.5" y="8" width="5.3" height="12" fill="#1e1e1e"/>
<rect x="565.5" y="741" width="5.3" height="12" fill="#1e1e1e"/>
<rect x="643.8" y="8" width="5.3" height="12" fill="#1e1e1e"/>
<rect x="643.8" y="741" width="5.3" height="12" fill="#1e1e1e"/>
<rect x="722.1" y="8" width="5.3" height="12" fill="#1e1e1e"/>
<rect x="722.1" y="741" width="5.3" height="12" fill="#1e1e1e"/>
<rect x="797.8" y="8" width="5.3" height="12" fill="#1e1e1e"/>
<rect x="797.8" y="741" width="5.3" height="12" fill="#1e1e1e"/>
<rect x="876.1" y="8" width="5.3" height="12" fill="#1e1e1e"/>
<rect x="876.1" y="741" width="5.3" height="12" fill="#1e1e1e"/>
<rect x="951.8" y="8" width="5.3" height="12" fill="#1e1e1e"/>
<rect x="951.8" y="741" width="5.3" height="12" fill="#1e1e1e"/>
<rect x="1030.1" y="8" width="5.3" height="12" fill="#1e1e1e"/>
<rect x="1030.1" y="741" width="5.3" height="12" fill="#1e1e1e"/>
<rect x="106" y="17.4" width="5.4" height="726.6" fill="#4d9ff7"/>
<rect x="96" y="17.6" width="12" height="5.2" fill="#4d9ff7"/>
<text x="79.6" y="32.0" text-anchor="end" fill="#4d9ff7" font-size="33">10</text>
<rect x="96" y="89.7" width="12" height="5.2" fill="#4d9ff7"/>
<text x="79.6" y="104.1" text-anchor="end" fill="#4d9ff7" font-size="33">8</text>
<rect x="96" y="161.7" width="12" height="5.2" fill="#4d9ff7"/>
<text x="79.6" y="176.1" text-anchor="end" fill="#4d9ff7" font-size="33">6</text>
<rect x="96" y="233.8" width="12" height="5.2" fill="#4d9ff7"/>
<text x="79.6" y="248.2" text-anchor="end" fill="#4d9ff7" font-size="33">4</text>
<rect x="96" y="305.8" width="12" height="5.2" fill="#4d9ff7"/>
<text x="79.6" y="320.2" text-anchor="end" fill="#4d9ff7" font-size="33">2</text>
<rect x="96" y="377.9" width="12" height="5.2" fill="#4d9ff7"/>
<text x="79.6" y="392.3" text-anchor="end" fill="#4d9ff7" font-size="33">0</text>
<rect x="96" y="450.0" width="12" height="5.2" fill="#4d9ff7"/>
<text x="79.6" y="464.4" text-anchor="end" fill="#4d9ff7" font-size="33">-2</text>
<rect x="96" y="522.0" width="12" height="5.2" fill="#4d9ff7"/>
<text x="79.6" y="536.4" text-anchor="end" fill="#4d9ff7" font-size="33">-4</text>
<rect x="96" y="594.1" width="12" height="5.2" fill="#4d9ff7"/>
<text x="79.6" y="608.5" text-anchor="end" fill="#4d9ff7" font-size="33">-6</text>
<rect x="96" y="666.1" width="12" height="5.2" fill="#4d9ff7"/>
<text x="79.6" y="680.5" text-anchor="end" fill="#4d9ff7" font-size="33">-8</text>
<rect x="96" y="738.2" width="12" height="5.2" fill="#4d9ff7"/>
<text x="79.6" y="752.6" text-anchor="end" fill="#4d9ff7" font-size="33">-10</text>
<rect x="1042.2" y="17.4" width="5.5" height="726.6" fill="#a61ef7"/>
<rect x="1045" y="17.6" width="12" height="5.2" fill="#a61ef7"/>
<text x="1072" y="32.0" fill="#a61ef7" font-size="33">5.2</text>
<rect x="1045" y="137.7" width="12" height="5.2" fill="#a61ef7"/>
<text x="1072" y="152.1" fill="#a61ef7" font-size="33">5.1</text>
<rect x="1045" y="257.8" width="12" height="5.2" fill="#a61ef7"/>
<text x="1072" y="272.2" fill="#a61ef7" font-size="33">5</text>
<rect x="1045" y="377.9" width="12" height="5.2" fill="#a61ef7"/>
<text x="1072" y="392.3" fill="#a61ef7" font-size="33">4.9</text>
<rect x="1045" y="498.0" width="12" height="5.2" fill="#a61ef7"/>
<text x="1072" y="512.4" fill="#a61ef7" font-size="33">4.8</text>
<rect x="1045" y="618.1" width="12" height="5.2" fill="#a61ef7"/>
<text x="1072" y="632.5" fill="#a61ef7" font-size="33">4.7</text>
<rect x="1045" y="738.2" width="12" height="5.2" fill="#a61ef7"/>
<text x="1072" y="752.6" fill="#a61ef7" font-size="33">4.6</text>
<rect x="1183.4" y="17.4" width="5.6" height="726.6" fill="#ff2fa5"/>
<rect x="1186" y="17.6" width="13" height="5.2" fill="#ff2fa5"/>
<text x="1214" y="32.0" fill="#ff2fa5" font-size="33">3600</text>
<rect x="1186" y="137.7" width="13" height="5.2" fill="#ff2fa5"/>
<text x="1214" y="152.1" fill="#ff2fa5" font-size="33">3650</text>
<rect x="1186" y="257.8" width="13" height="5.2" fill="#ff2fa5"/>
<text x="1214" y="272.2" fill="#ff2fa5" font-size="33">3700</text>
<rect x="1186" y="377.9" width="13" height="5.2" fill="#ff2fa5"/>
<text x="1214" y="392.3" fill="#ff2fa5" font-size="33">3750</text>
<rect x="1186" y="498.0" width="13" height="5.2" fill="#ff2fa5"/>
<text x="1214" y="512.4" fill="#ff2fa5" font-size="33">3800</text>
<rect x="1186" y="618.1" width="13" height="5.2" fill="#ff2fa5"/>
<text x="1214" y="632.5" fill="#ff2fa5" font-size="33">3850</text>
<rect x="1186" y="738.2" width="13" height="5.2" fill="#ff2fa5"/>
<text x="1214" y="752.6" fill="#ff2fa5" font-size="33">3900</text>
<text x="147.8" y="770.7" text-anchor="middle" fill="#1a1212" font-size="33">Jan</text>
<text x="223.6" y="770.7" text-anchor="middle" fill="#1a1212" font-size="33">Feb</text>
<text x="299.3" y="770.7" text-anchor="middle" fill="#1a1212" font-size="33">Mar</text>
<text x="376.3" y="770.7" text-anchor="middle" fill="#1a1212" font-size="33">Apr</text>
<text x="453.3" y="770.7" text-anchor="middle" fill="#1a1212" font-size="33">May</text>
<text x="530.3" y="770.7" text-anchor="middle" fill="#1a1212" font-size="33">Jun</text>
<text x="607.3" y="770.7" text-anchor="middle" fill="#1a1212" font-size="33">Jul</text>
<text x="685.6" y="770.7" text-anchor="middle" fill="#1a1212" font-size="33">Aug</text>
<text x="762.6" y="770.7" text-anchor="middle" fill="#1a1212" font-size="33">Sep</text>
<text x="839.6" y="770.7" text-anchor="middle" fill="#1a1212" font-size="33">Oct</text>
<text x="916.6" y="770.7" text-anchor="middle" fill="#1a1212" font-size="33">Nov</text>
<text x="993.6" y="770.7" text-anchor="middle" fill="#1a1212" font-size="33">Dec</text>
<text transform="translate(31.5,380.5) rotate(-90)" text-anchor="middle" fill="#4d9ff7" font-size="33">Eastward Transport (Sv)</text>
<text transform="translate(1146.3,381) rotate(-90)" text-anchor="middle" fill="#a61ef7" font-size="33">Dissolved Oxygen (mg&#183;l<tspan dy="-16" font-size="25" dx="3">-1</tspan><tspan dy="16">)</tspan></text>
<text transform="translate(1328,381) rotate(-90)" text-anchor="middle" fill="#ff2fa5" font-size="33"><tspan font-family="Liberation Serif" font-style="italic">&#952;</tspan><tspan dy="14" font-size="25" dx="3">1.2</tspan><tspan dy="-14" dx="1"> Depth (m)</tspan></text>
</svg>
</body></html>
